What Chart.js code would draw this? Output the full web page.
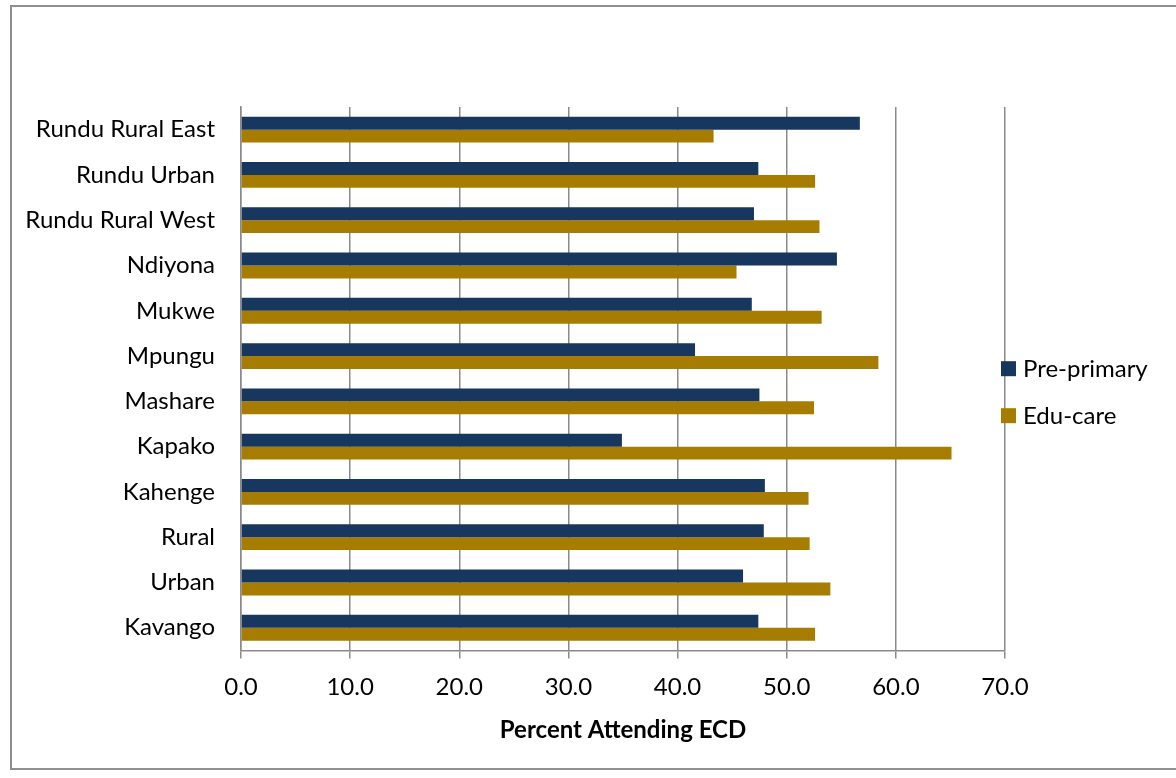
<!DOCTYPE html>
<html>
<head>
<meta charset="utf-8">
<script src="https://cdn.jsdelivr.net/npm/chart.js@4"></script>
<style>
  body { margin: 0; background: #fff; }
  .wrap { position: relative; width: 1176px; height: 778px; overflow: hidden; }
  .frame { position: absolute; left: 10px; top: 5px; width: 1200px; height: 765px; border: 2px solid #8f8f8f; box-sizing: border-box; }
  canvas { position: absolute; left: 0; top: 0; }
</style>
</head>
<body>
<div class="wrap">
  <div class="frame"></div>
  <canvas id="chart" width="1176" height="778"></canvas>
</div>
<script>
// chart data
const regions = ["Rundu Rural East", "Rundu Urban", "Rundu Rural West", "Ndiyona", "Mukwe", "Mpungu",
  "Mashare", "Kapako", "Kahenge", "Rural", "Urban", "Kavango"];
const prePrimary = [56.7, 47.4, 47.0, 54.6, 46.8, 41.6, 47.5, 34.9, 48.0, 47.9, 46.0, 47.4];
const eduCare = [43.3, 52.6, 53.0, 45.4, 53.2, 58.4, 52.5, 65.1, 52.0, 52.1, 54.0, 52.6];
const xTicks = [0, 10, 20, 30, 40, 50, 60, 70];

const fontFamily = "Lato, 'Open Sans', sans-serif";

// legend drawn beside the plot, the way the spreadsheet placed it
const sideLegend = {
  id: "sideLegend",
  afterDraw(chart) {
    const ctx = chart.ctx;
    const area = chart.chartArea;
    const mid = (area.top + area.bottom) / 2;
    ctx.save();
    ctx.font = "24px " + fontFamily;
    ctx.textBaseline = "middle";
    chart.data.datasets.forEach((ds, i) => {
      const y = mid - 10 + i * 47;
      ctx.fillStyle = ds.backgroundColor;
      ctx.fillRect(area.right - 4, y - 7.5, 15, 15);
      ctx.fillStyle = "#000";
      ctx.fillText(ds.label, area.right + 18, y + 1);
    });
    ctx.restore();
  },
};

new Chart(document.getElementById("chart"), {
  type: "bar",
  data: {
    labels: regions,
    datasets: [
      {
        label: "Pre-primary",
        data: prePrimary,
        backgroundColor: "#17375e",
        categoryPercentage: 0.57,
        barPercentage: 1.0,
      },
      {
        label: "Edu-care",
        data: eduCare,
        backgroundColor: "#a67d00",
        categoryPercentage: 0.57,
        barPercentage: 1.0,
      },
    ],
  },
  options: {
    indexAxis: "y",
    responsive: false,
    animation: false,
    layout: { padding: { left: 10, top: 107, right: 171, bottom: 29 } },
    plugins: {
      tooltip: { enabled: false },
      legend: { display: false },
    },
    scales: {
      x: {
        min: 0,
        max: 70,
        afterBuildTicks: (axis) => {
          axis.ticks = xTicks.map((v) => ({ value: v }));
        },
        ticks: {
          color: "#000",
          padding: 14,
          font: { family: fontFamily, size: 24 },
          callback: (v) => Number(v).toFixed(1),
        },
        grid: { color: "#8a8a8a", lineWidth: 1.5, tickLength: 8 },
        border: { color: "#8a8a8a", width: 1.5 },
        title: {
          display: true,
          text: "Percent Attending ECD",
          color: "#000",
          font: { family: fontFamily, size: 24, weight: "bold" },
          padding: { top: 1, bottom: 4 },
        },
      },
      y: {
        afterFit: (axis) => {
          axis.width = 231;
        },
        ticks: {
          color: "#000",
          padding: 18,
          font: { family: fontFamily, size: 24 },
        },
        grid: { display: false },
        border: { color: "#8a8a8a", width: 1.5 },
      },
    },
  },
  plugins: [sideLegend],
});
</script>
</body>
</html>
